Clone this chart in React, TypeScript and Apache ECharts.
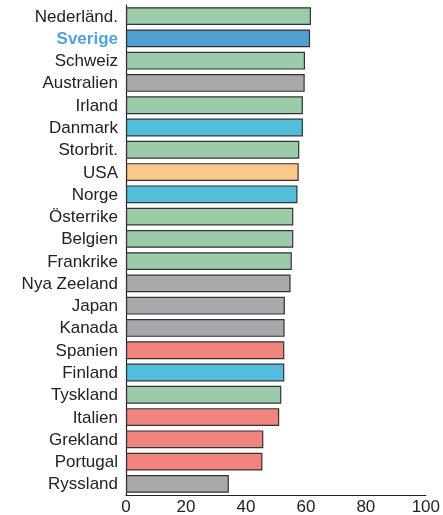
import React, { useEffect, useRef } from "react";
import * as echarts from "echarts";

const categories = [
  "Nederländ.", "Sverige", "Schweiz", "Australien", "Irland", "Danmark",
  "Storbrit.", "USA", "Norge", "Österrike", "Belgien", "Frankrike",
  "Nya Zeeland", "Japan", "Kanada", "Spanien", "Finland", "Tyskland",
  "Italien", "Grekland", "Portugal", "Ryssland",
];
const values = [
  61.7, 61.4, 59.7, 59.6, 59.0, 59.0, 57.8, 57.6, 57.2, 55.8, 55.8, 55.3,
  54.9, 53.0, 52.9, 52.8, 52.8, 51.8, 51.1, 45.8, 45.5, 34.3,
];
const groups = [
  "g", "se", "g", "a", "g", "n", "g", "u", "n", "g", "g", "g",
  "a", "a", "a", "r", "n", "g", "r", "r", "r", "a",
];
const groupColors: Record<string, string> = {
  g: "#9ccba9",
  se: "#4f9fd0",
  n: "#52bedb",
  a: "#a8a9ad",
  u: "#fbc78a",
  r: "#f28480",
};
const xTicks = [0, 20, 40, 60, 80, 100];

export default function App() {
  const ref = useRef<HTMLDivElement>(null);
  useEffect(() => {
    if (!ref.current) return;
    const chart = echarts.init(ref.current, undefined, { renderer: "svg" });
    const font = "'Liberation Sans', Arial, Helvetica, sans-serif";
    chart.setOption({
      animation: false,
      grid: { left: 126, right: 14, top: 5, bottom: 20, containLabel: false },
      xAxis: {
        type: "value",
        min: xTicks[0],
        max: xTicks[xTicks.length - 1],
        interval: 20,
        splitLine: { show: false },
        axisLine: { show: true, lineStyle: { color: "#222", width: 1.2 } },
        axisTick: { show: false },
        axisLabel: {
          color: "#222",
          fontSize: 17,
          fontFamily: font,
          margin: 3,
        },
      },
      yAxis: {
        type: "category",
        data: categories,
        inverse: true,
        axisLine: { show: true, lineStyle: { color: "#222", width: 1.2 } },
        axisTick: { show: false },
        axisLabel: {
          color: "#222",
          fontSize: 17,
          fontFamily: font,
          margin: 8,
          formatter: (v: string) => (v === "Sverige" ? `{se|${v}}` : v),
          rich: {
            se: {
              color: "#4fa3d8",
              fontWeight: "bold",
              fontSize: 17,
              fontFamily: font,
            },
          },
        },
      },
      series: [
        {
          type: "bar",
          data: values.map((v, i) => ({
            value: v,
            itemStyle: { color: groupColors[groups[i]] },
          })),
          barCategoryGap: "20%",
          itemStyle: { borderColor: "#333", borderWidth: 1.2 },
        },
      ],
    });
    return () => chart.dispose();
  }, []);
  return (
    <div
      ref={ref}
      style={{ position: "fixed", left: 0, top: 0, width: 443, height: 515 }}
    />
  );
}
